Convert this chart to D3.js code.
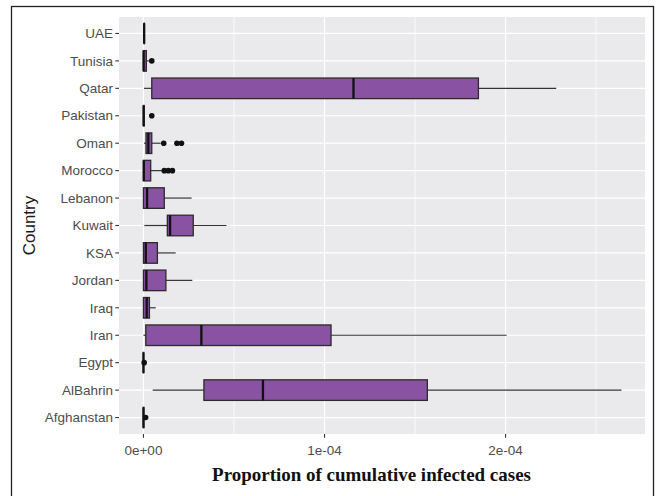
<!DOCTYPE html>
<html><head><meta charset="utf-8">
<script src="https://cdn.jsdelivr.net/npm/d3@7"></script>
<style>
html,body{margin:0;padding:0;background:#fff;}
svg{display:block;}
</style></head>
<body>
<svg id="chart" width="657" height="496"></svg>
<script>
// Categories (top to bottom)
const countries = ["UAE","Tunisia","Qatar","Pakistan","Oman","Morocco","Lebanon","Kuwait","KSA","Jordan","Iraq","Iran","Egypt","AlBahrin","Afghanstan"];
// Box statistics in units of 1e-4
const whiskerLow  = [0.004, 0.000, 0.003, 0.000, 0.003, 0.000, 0.000, 0.005, 0.000, 0.000, 0.000, 0.000, 0.000, 0.051, 0.000];
const q1          = [0.004, 0.000, 0.046, 0.000, 0.014, 0.000, 0.000, 0.132, 0.000, 0.000, 0.000, 0.013, 0.000, 0.334, 0.000];
const median      = [0.004, 0.001, 1.160, 0.001, 0.027, 0.002, 0.020, 0.147, 0.013, 0.016, 0.018, 0.320, 0.000, 0.660, 0.000];
const q3          = [0.005, 0.016, 1.850, 0.004, 0.046, 0.040, 0.115, 0.275, 0.077, 0.124, 0.033, 1.036, 0.001, 1.568, 0.002];
const whiskerHigh = [0.005, 0.030, 2.280, 0.008, 0.095, 0.105, 0.266, 0.459, 0.178, 0.270, 0.068, 2.006, 0.002, 2.640, 0.004];
const outliers    = [[], [0.046], [], [0.046], [0.112, 0.185, 0.210], [0.115, 0.137, 0.160], [], [], [], [], [], [], [0.004], [], [0.012]];
// Axis ticks (units of 1e-4)
const majorTicks = [0, 1, 2];
const tickLabels = ["0e+00", "1e-04", "2e-04"];
const minorTicks = [0.5, 1.5, 2.5];
const xTitle = "Proportion of cumulative infected cases";
const yTitle = "Country";

const svg = d3.select("#chart");
const panel = {left: 119, top: 17, right: 645, bottom: 434};

// outer frame
svg.append("rect").attr("x", 11.5).attr("y", 6.5).attr("width", 642).attr("height", 500)
  .attr("fill", "none").attr("stroke", "#222").attr("stroke-width", 1.3);

const x = d3.scaleLinear().domain([-0.135, 2.77]).range([panel.left, panel.right]);
const y = d3.scalePoint().domain(countries).range([panel.top, panel.bottom]).padding(0.6);
const step = y.step();
const boxH = step * 0.75;

svg.append("rect").attr("x", panel.left).attr("y", panel.top)
  .attr("width", panel.right - panel.left).attr("height", panel.bottom - panel.top)
  .attr("fill", "#EAEAEC");

const g = svg.append("g");
// minor grid
g.selectAll(".minor").data(minorTicks).join("line")
  .attr("x1", d => x(d)).attr("x2", d => x(d)).attr("y1", panel.top).attr("y2", panel.bottom)
  .attr("stroke", "#fff").attr("stroke-width", 0.7);
// major grid
g.selectAll(".major").data(majorTicks).join("line")
  .attr("x1", d => x(d)).attr("x2", d => x(d)).attr("y1", panel.top).attr("y2", panel.bottom)
  .attr("stroke", "#fff").attr("stroke-width", 1.2);
g.selectAll(".hgrid").data(countries).join("line")
  .attr("x1", panel.left).attr("x2", panel.right).attr("y1", d => y(d)).attr("y2", d => y(d))
  .attr("stroke", "#fff").attr("stroke-width", 1.2);

// boxes
const boxes = g.selectAll(".box").data(countries).join("g");
const stroke = "#2b2b2b";
boxes.append("line")
  .attr("x1", (d, i) => x(whiskerLow[i])).attr("x2", (d, i) => x(q1[i]))
  .attr("y1", d => y(d)).attr("y2", d => y(d)).attr("stroke", "#333").attr("stroke-width", 1.2);
boxes.append("line")
  .attr("x1", (d, i) => x(q3[i])).attr("x2", (d, i) => x(whiskerHigh[i]))
  .attr("y1", d => y(d)).attr("y2", d => y(d)).attr("stroke", "#333").attr("stroke-width", 1.2);
boxes.append("rect")
  .attr("x", (d, i) => x(q1[i])).attr("width", (d, i) => Math.max(0, x(q3[i]) - x(q1[i])))
  .attr("y", d => y(d) - boxH / 2).attr("height", boxH)
  .attr("fill", "#8A52A2").attr("stroke", stroke).attr("stroke-width", 1.3);
boxes.append("line")
  .attr("x1", (d, i) => x(median[i])).attr("x2", (d, i) => x(median[i]))
  .attr("y1", d => y(d) - boxH / 2).attr("y2", d => y(d) + boxH / 2)
  .attr("stroke", "#111").attr("stroke-width", 2.3);
boxes.each(function (d, i) {
  d3.select(this).selectAll("circle").data(outliers[i]).join("circle")
    .attr("cx", v => x(v)).attr("cy", y(d)).attr("r", 2.8).attr("fill", "#111");
});

// y axis
const ya = svg.append("g");
ya.selectAll("line").data(countries).join("line")
  .attr("x1", panel.left - 3.7).attr("x2", panel.left).attr("y1", d => y(d)).attr("y2", d => y(d))
  .attr("stroke", "#333").attr("stroke-width", 1.1);
ya.selectAll("text").data(countries).join("text")
  .attr("x", panel.left - 6).attr("y", d => y(d)).attr("dy", "0.35em")
  .attr("text-anchor", "end").attr("font-family", "Liberation Sans, Arial, sans-serif")
  .attr("font-size", 13.5).attr("fill", "#4D4D4D").text(d => d);

// x axis
const xa = svg.append("g");
xa.selectAll("line").data(majorTicks).join("line")
  .attr("x1", d => x(d)).attr("x2", d => x(d)).attr("y1", panel.bottom).attr("y2", panel.bottom + 3.7)
  .attr("stroke", "#333").attr("stroke-width", 1.1);
xa.selectAll("text").data(majorTicks).join("text")
  .attr("x", d => x(d)).attr("y", panel.bottom + 16).attr("dy", "0.35em")
  .attr("text-anchor", "middle").attr("font-family", "Liberation Sans, Arial, sans-serif")
  .attr("font-size", 13.5).attr("fill", "#4D4D4D").text((d, i) => tickLabels[i]);

const title = svg.append("text").attr("x", 371.5).attr("y", 481)
  .attr("text-anchor", "middle").attr("font-family", "Liberation Serif, serif").attr("font-weight", "bold")
  .attr("font-size", 16).attr("fill", "#111").text(xTitle);
// fit title width to ~319px as in the reference
const w = title.node().getComputedTextLength();
title.attr("font-size", 16 * 319 / w);

svg.append("text").attr("transform", `translate(35,${(panel.top + panel.bottom) / 2}) rotate(-90)`)
  .attr("text-anchor", "middle").attr("font-family", "Liberation Sans, Arial, sans-serif")
  .attr("font-size", 17).attr("fill", "#1a1a1a").text(yTitle);
</script>
</body></html>
